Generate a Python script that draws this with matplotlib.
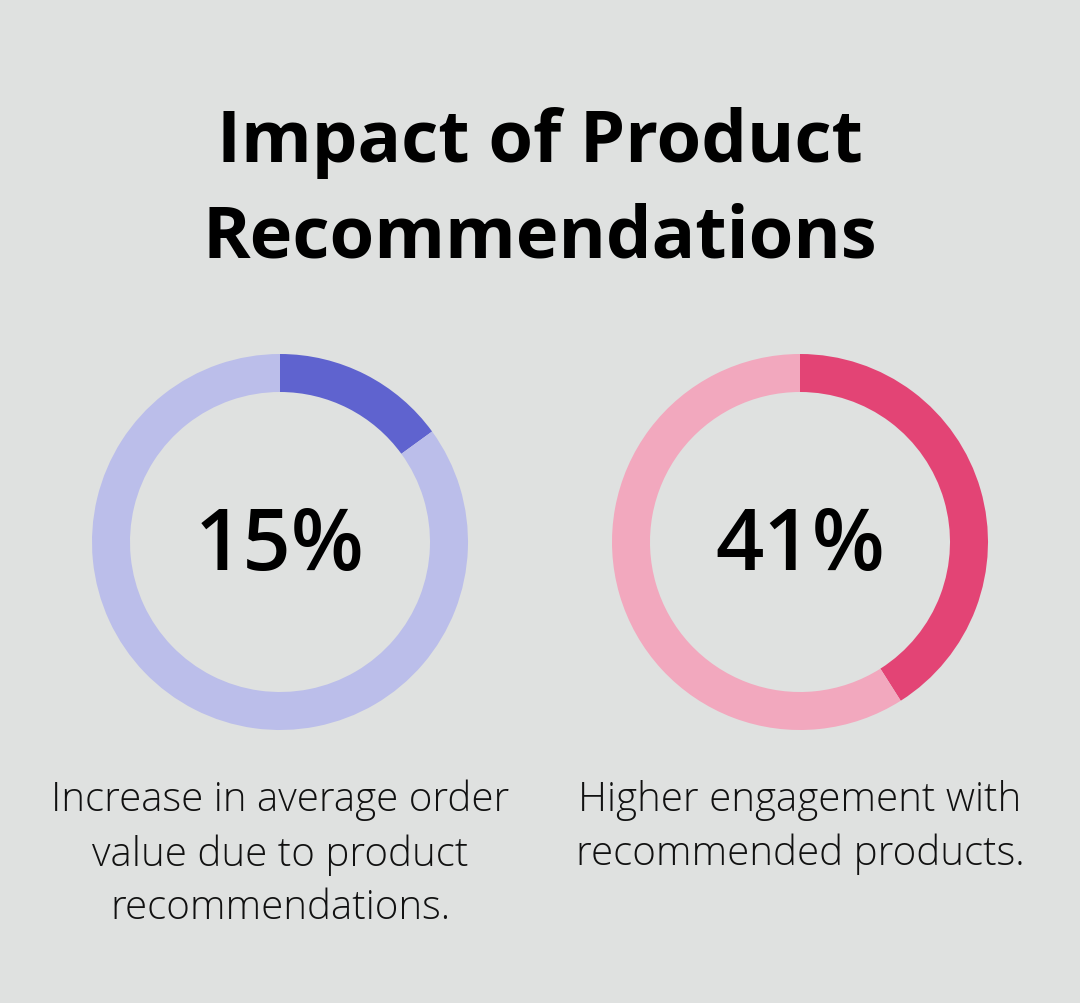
import matplotlib
matplotlib.use("Agg")
import matplotlib.pyplot as plt

# data
values = [15, 41]
labels = ["Increase in average order\nvalue due to product\nrecommendations.",
          "Higher engagement with\nrecommended products."]
dark_colors = ["#5F63CF", "#E34475"]
light_colors = ["#BBBEEA", "#F2A8BE"]
title = "Impact of Product\nRecommendations"

W, H = 1080, 1004
bg = "#DFE1E0"
plt.rcParams['font.family'] = ['Open Sans', 'DejaVu Sans']

fig = plt.figure(figsize=(W / 100, H / 100), dpi=100, facecolor=bg)

centers = [(280, 543), (800, 543)]
r = 188
for (cx, cy), v, dc, lc, lab in zip(centers, values, dark_colors, light_colors, labels):
    ax = fig.add_axes([(cx - r) / W, (H - cy - r) / H, 2 * r / W, 2 * r / H])
    ax.pie([v, 100 - v], colors=[dc, lc], startangle=90, counterclock=False,
           radius=1, wedgeprops=dict(width=38 / 188, linewidth=0))
    ax.set_xlim(-1, 1)
    ax.set_ylim(-1, 1)
    ax.set_aspect('equal')
    ax.axis('off')
    fig.text(cx / W, 1 - 548 / H, f"{v}%", ha='center', va='center',
             fontsize=61, fontweight='semibold', color='black')
    fig.text(cx / W, 1 - 780 / H, lab, ha='center', va='top',
             fontsize=29, fontweight='light', color='#111111', linespacing=1.40)

fig.text(0.5, 1 - 191 / H, title, ha='center', va='center', fontsize=52,
         fontweight='bold', color='black', linespacing=1.42)

fig.savefig("out.png", dpi=100, facecolor=bg)
